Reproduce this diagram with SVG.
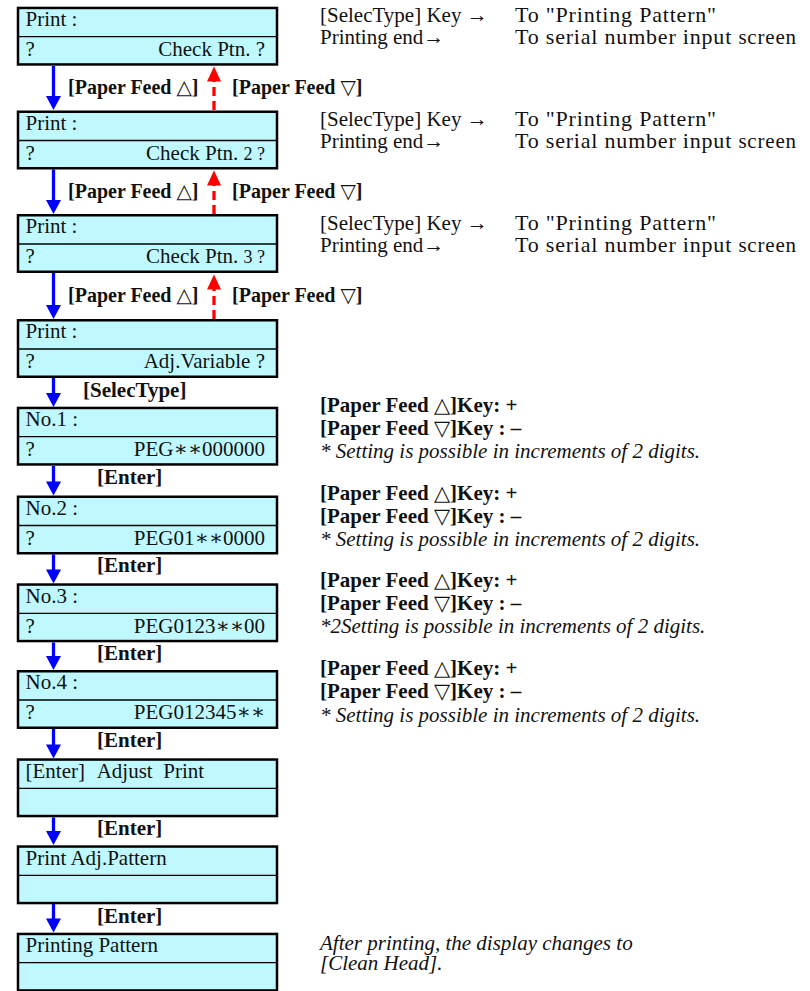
<svg xmlns="http://www.w3.org/2000/svg" width="810" height="991" viewBox="0 0 810 991">
<style>
.box{fill:#BFF9FF;stroke:#000;stroke-width:2.5}
.div{stroke:#000;stroke-width:1.3}
.t{font-family:"Liberation Serif","DejaVu Serif",serif;font-size:21px;fill:#111}
.b{font-family:"Liberation Serif","DejaVu Serif",serif;font-size:21px;font-weight:bold;fill:#111}
.lb{font-size:20px}
.i{font-family:"Liberation Serif","DejaVu Serif",serif;font-size:21px;font-style:italic;fill:#111}
.to{font-size:22px;letter-spacing:0.8px}
.r{text-anchor:end}
.sm{font-size:18px}
.sc{font-size:21px}
.blue{stroke:#0000FF;stroke-width:3.3;fill:none}
.red{stroke:#FF0000;stroke-width:3.3;fill:none;stroke-dasharray:9 5}
.bh{fill:#0000FF}
.rh{fill:#FF0000}
</style>
<defs>
<g id="frame">
<rect class="box" x="18" y="1.25" width="259" height="56.5"/>
<line class="div" x1="18" y1="30" x2="277" y2="30"/>
</g>
</defs>

<g id="connectors">
<line class="blue" x1="53.5" y1="66" x2="53.5" y2="97"/><polygon class="bh" points="46,96 61,96 53.5,110"/>
<line class="blue" x1="53.5" y1="169.5" x2="53.5" y2="201"/><polygon class="bh" points="46,200 61,200 53.5,214"/>
<line class="blue" x1="53.5" y1="273" x2="53.5" y2="306"/><polygon class="bh" points="46,305 61,305 53.5,319"/>
<line class="blue" x1="53.5" y1="378" x2="53.5" y2="394"/><polygon class="bh" points="46,393 61,393 53.5,407"/>
<line class="blue" x1="53.5" y1="466" x2="53.5" y2="482"/><polygon class="bh" points="46,481.5 61,481.5 53.5,495.5"/>
<line class="blue" x1="53.5" y1="554.5" x2="53.5" y2="570"/><polygon class="bh" points="46,569.5 61,569.5 53.5,583.5"/>
<line class="blue" x1="53.5" y1="642.5" x2="53.5" y2="657"/><polygon class="bh" points="46,656 61,656 53.5,670"/>
<line class="blue" x1="53.5" y1="729" x2="53.5" y2="745"/><polygon class="bh" points="46,744.5 61,744.5 53.5,758.5"/>
<line class="blue" x1="53.5" y1="817.5" x2="53.5" y2="832"/><polygon class="bh" points="46,831 61,831 53.5,845"/>
<line class="blue" x1="53.5" y1="904" x2="53.5" y2="919"/><polygon class="bh" points="46,918.5 61,918.5 53.5,932.5"/>
<line class="red" x1="214" y1="110" x2="214" y2="80"/><polygon class="rh" points="207,81.5 221,81.5 214,66.5"/>
<line class="red" x1="214" y1="214" x2="214" y2="184"/><polygon class="rh" points="207,185.5 221,185.5 214,170.5"/>
<line class="red" x1="214" y1="319" x2="214" y2="288"/><polygon class="rh" points="207,289.5 221,289.5 214,274.5"/>
</g>

<g id="labels">
<text class="b lb" x="68" y="94">[Paper Feed △]</text>
<text class="b lb" x="232" y="94">[Paper Feed ▽]</text>
<text class="b lb" x="68" y="197.5">[Paper Feed △]</text>
<text class="b lb" x="232" y="197.5">[Paper Feed ▽]</text>
<text class="b lb" x="68" y="301.5">[Paper Feed △]</text>
<text class="b lb" x="232" y="301.5">[Paper Feed ▽]</text>
<text class="b" x="83" y="397">[SelecType]</text>
<text class="b" x="97" y="484">[Enter]</text>
<text class="b" x="97" y="572">[Enter]</text>
<text class="b" x="97" y="660">[Enter]</text>
<text class="b" x="97" y="747">[Enter]</text>
<text class="b" x="97" y="835">[Enter]</text>
<text class="b" x="97" y="922.5">[Enter]</text>
</g>

<g id="node1" transform="translate(0,6.7)">
<use href="#frame"/>
<text class="t" x="25.5" y="19.3">Print :</text>
<text class="t" x="25.5" y="49.3">?</text>
<text class="t r" x="265" y="49.3">Check Ptn. ?</text>
</g>
<g id="node2" transform="translate(0,110.5)">
<use href="#frame"/>
<text class="t" x="25.5" y="19.3">Print :</text>
<text class="t" x="25.5" y="49.3">?</text>
<text class="t r" x="265" y="49.3">Check Ptn. <tspan class="sm">2 ?</tspan></text>
</g>
<g id="node3" transform="translate(0,214)">
<use href="#frame"/>
<text class="t" x="25.5" y="19.3">Print :</text>
<text class="t" x="25.5" y="49.3">?</text>
<text class="t r" x="265" y="49.3">Check Ptn. <tspan class="sm">3 ?</tspan></text>
</g>
<g id="node4" transform="translate(0,319)">
<use href="#frame"/>
<text class="t" x="25.5" y="19.3">Print :</text>
<text class="t" x="25.5" y="49.3">?</text>
<text class="t r" x="265" y="49.3">Adj.Variable ?</text>
</g>
<g id="node5" transform="translate(0,406.7)">
<use href="#frame"/>
<text class="t" x="25.5" y="19.3">No.1 :</text>
<text class="t" x="25.5" y="49.3">?</text>
<text class="t r" x="265" y="49.3">PEG∗∗000000</text>
</g>
<g id="node6" transform="translate(0,495.5)">
<use href="#frame"/>
<text class="t" x="25.5" y="19.3">No.2 :</text>
<text class="t" x="25.5" y="49.3">?</text>
<text class="t r" x="265" y="49.3">PEG01∗∗0000</text>
</g>
<g id="node7" transform="translate(0,583.3)">
<use href="#frame"/>
<text class="t" x="25.5" y="19.3">No.3 :</text>
<text class="t" x="25.5" y="49.3">?</text>
<text class="t r" x="265" y="49.3">PEG0123∗∗00</text>
</g>
<g id="node8" transform="translate(0,670)">
<use href="#frame"/>
<text class="t" x="25.5" y="19.3">No.4 :</text>
<text class="t" x="25.5" y="49.3">?</text>
<text class="t r" x="265" y="49.3">PEG012345∗∗</text>
</g>
<g id="node9" transform="translate(0,758.3)">
<use href="#frame"/>
<text class="t" x="25.5" y="19.3">[Enter]<tspan x="96.7">Adjust</tspan><tspan x="163.3">Print</tspan></text>
</g>
<g id="node10" transform="translate(0,845.3)">
<use href="#frame"/>
<text class="t" x="25.5" y="19.3">Print Adj.Pattern</text>
</g>
<g id="node11" transform="translate(0,932.7)">
<use href="#frame"/>
<text class="t" x="25.5" y="19.3">Printing Pattern</text>
</g>

<g id="notes">
<text class="t" x="320" y="22">[SelecType] Key →</text>
<text class="t" x="320" y="44">Printing end→</text>
<text class="t to" x="515" y="22">To "Printing Pattern"</text>
<text class="t to" x="515" y="44">To serial number input <tspan class="sc">screen</tspan></text>
<text class="t" x="320" y="126">[SelecType] Key →</text>
<text class="t" x="320" y="148">Printing end→</text>
<text class="t to" x="515" y="126">To "Printing Pattern"</text>
<text class="t to" x="515" y="148">To serial number input <tspan class="sc">screen</tspan></text>
<text class="t" x="320" y="230">[SelecType] Key →</text>
<text class="t" x="320" y="252">Printing end→</text>
<text class="t to" x="515" y="230">To "Printing Pattern"</text>
<text class="t to" x="515" y="252">To serial number input <tspan class="sc">screen</tspan></text>

<text class="b" x="320" y="412">[Paper Feed △]Key: +</text>
<text class="b" x="320" y="435">[Paper Feed ▽]Key : –</text>
<text class="i" x="320" y="458">* Setting is possible in increments of 2 digits.</text>
<text class="b" x="320" y="499.5">[Paper Feed △]Key: +</text>
<text class="b" x="320" y="522.5">[Paper Feed ▽]Key : –</text>
<text class="i" x="320" y="546">* Setting is possible in increments of 2 digits.</text>
<text class="b" x="320" y="587">[Paper Feed △]Key: +</text>
<text class="b" x="320" y="610">[Paper Feed ▽]Key : –</text>
<text class="i" x="320" y="633">*2Setting is possible in increments of 2 digits.</text>
<text class="b" x="320" y="675">[Paper Feed △]Key: +</text>
<text class="b" x="320" y="698">[Paper Feed ▽]Key : –</text>
<text class="i" x="320" y="721.5">* Setting is possible in increments of 2 digits.</text>

<text class="i" x="320" y="950">After printing, the display changes to</text>
<text class="i" x="320" y="970">[Clean Head].</text>
</g>
</svg>
